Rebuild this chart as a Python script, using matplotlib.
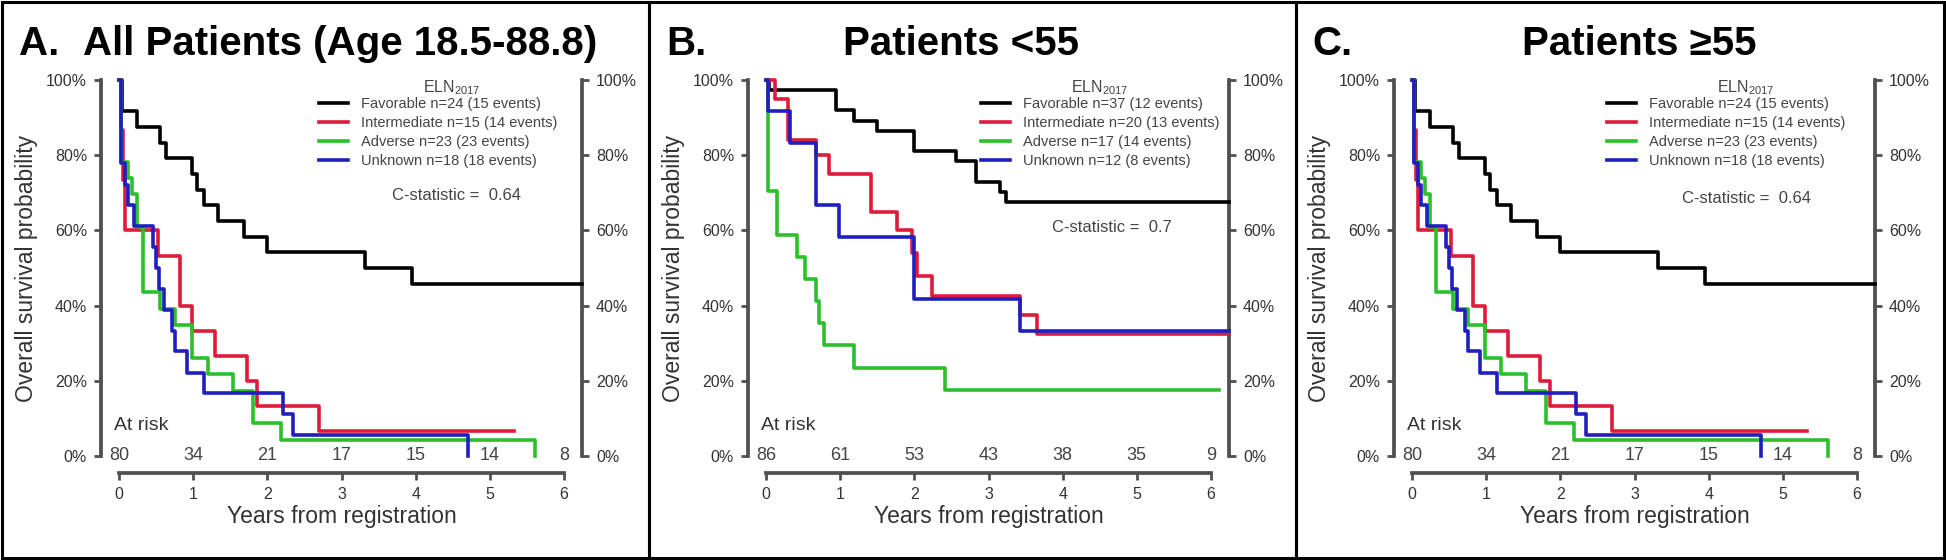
import matplotlib.pyplot as plt
from matplotlib.lines import Line2D
from matplotlib.patches import Rectangle

plt.rcParams['font.family'] = ['Liberation Sans', 'DejaVu Sans']
plt.rcParams['mathtext.fontset'] = 'custom'
plt.rcParams['mathtext.rm'] = 'Liberation Sans'

W, H = 1946, 560

years = [0, 1, 2, 3, 4, 5, 6]
pct_ticks = [0, 20, 40, 60, 80, 100]
group_colors = ['black', '#dd1c3a', '#2bbf2b', '#1f1fbf']

# ---- panel A : all patients (step times in years, survival in %)
a_fav_t = [0, 0.04, 0.24, 0.55, 0.64, 0.98, 1.05, 1.14, 1.34, 1.68, 1.99, 3.32, 3.95, 6.24]
a_fav_s = [100, 91.7, 87.5, 83.3, 79.2, 75.0, 70.8, 66.7, 62.5, 58.3, 54.2, 50.0, 45.8, 45.8]
a_int_t = [0, 0.02, 0.05, 0.08, 0.53, 0.82, 0.98, 1.29, 1.72, 1.86, 2.69, 5.32]
a_int_s = [100, 86.7, 73.3, 60.0, 53.3, 40.0, 33.3, 26.7, 20.0, 13.3, 6.7, 6.7]
a_adv_t = [0, 0.03, 0.12, 0.18, 0.24, 0.33, 0.55, 0.75, 0.98, 1.20, 1.54, 1.81, 2.19, 5.61]
a_adv_s = [100, 78.3, 73.9, 69.6, 60.9, 43.5, 39.1, 34.8, 26.1, 21.7, 17.4, 8.7, 4.3, 0]
a_unk_t = [0, 0.02, 0.08, 0.12, 0.20, 0.46, 0.50, 0.54, 0.60, 0.72, 0.76, 0.92, 1.14, 2.21, 2.35, 4.71]
a_unk_s = [100, 77.8, 72.2, 66.7, 61.1, 55.6, 50.0, 44.4, 38.9, 33.3, 27.8, 22.2, 16.7, 11.1, 5.6, 0]
a_labels = ['Favorable n=24 (15 events)', 'Intermediate n=15 (14 events)',
            'Adverse n=23 (23 events)', 'Unknown n=18 (18 events)']
a_at_risk = [80, 34, 21, 17, 15, 14, 8]
a_cstat = 'C-statistic =  0.64'

# ---- panel B : patients < 55
b_fav_t = [0, 0.04, 0.94, 1.19, 1.50, 2.00, 2.56, 2.83, 3.16, 3.23, 6.24]
b_fav_s = [100, 97.3, 91.9, 89.2, 86.5, 81.1, 78.4, 73.0, 70.3, 67.6, 67.6]
b_int_t = [0, 0.12, 0.30, 0.67, 0.85, 1.41, 1.77, 1.97, 2.04, 2.24, 3.43, 3.66, 6.24]
b_int_s = [100, 95.0, 84.0, 80.0, 75.0, 65.0, 60.0, 54.0, 48.0, 42.5, 37.5, 32.5, 32.5]
b_adv_t = [0, 0.02, 0.15, 0.42, 0.53, 0.67, 0.72, 0.78, 1.19, 2.42, 6.11]
b_adv_s = [100, 70.6, 58.8, 52.9, 47.1, 41.2, 35.3, 29.4, 23.5, 17.6, 17.6]
b_unk_t = [0, 0.03, 0.33, 0.67, 0.98, 2.00, 3.43, 6.24]
b_unk_s = [100, 91.7, 83.3, 66.7, 58.3, 41.7, 33.3, 33.3]
b_labels = ['Favorable n=37 (12 events)', 'Intermediate n=20 (13 events)',
            'Adverse n=17 (14 events)', 'Unknown n=12 (8 events)']
b_at_risk = [86, 61, 53, 43, 38, 35, 9]
b_cstat = 'C-statistic =  0.7'

# ---- panel C : patients >= 55 (the source figure shows the same curves as A)
c_fav_t, c_fav_s = a_fav_t, a_fav_s
c_int_t, c_int_s = a_int_t, a_int_s
c_adv_t, c_adv_s = a_adv_t, a_adv_s
c_unk_t, c_unk_s = a_unk_t, a_unk_s
c_labels = ['Favorable n=24 (15 events)', 'Intermediate n=15 (14 events)',
            'Adverse n=23 (23 events)', 'Unknown n=18 (18 events)']
c_at_risk = [80, 34, 21, 17, 15, 14, 8]
c_cstat = 'C-statistic =  0.64'


def fx(px):
    return px / W


def fy(py):
    return 1 - py / H


panels = [
    dict(x0=0, letter='A.', title='All Patients (Age 18.5-88.8)', title_x=83,
         curves=[(a_fav_t, a_fav_s), (a_int_t, a_int_s), (a_adv_t, a_adv_s), (a_unk_t, a_unk_s)],
         labels=a_labels, at_risk=a_at_risk, cstat=a_cstat,
         leg_x=319, eln_x=452, cstat_xy=(456, 196)),
    dict(x0=647, letter='B.', title='Patients <55', title_x=843,
         curves=[(b_fav_t, b_fav_s), (b_int_t, b_int_s), (b_adv_t, b_adv_s), (b_unk_t, b_unk_s)],
         labels=b_labels, at_risk=b_at_risk, cstat=b_cstat,
         leg_x=981, eln_x=1100, cstat_xy=(1112, 228)),
    dict(x0=1293, letter='C.', title='Patients \u226555', title_x=1522,
         curves=[(c_fav_t, c_fav_s), (c_int_t, c_int_s), (c_adv_t, c_adv_s), (c_unk_t, c_unk_s)],
         labels=c_labels, at_risk=c_at_risk, cstat=c_cstat,
         leg_x=1607, eln_x=1746, cstat_xy=(1746, 198)),
]

fig = plt.figure(figsize=(W / 100, H / 100), dpi=100)

spine_col = '#505050'
text_col = '#333333'

for p in panels:
    left = p['x0'] + 101
    ax = fig.add_axes([fx(left), fy(456), (582 - 101) / W, (456 - 80) / H])

    for (t, s), col in zip(p['curves'], group_colors):
        ax.step(t, s, where='post', color=col, lw=2.6, clip_on=False, zorder=3)

    ax.set_xlim(-0.243, 6.243)
    ax.set_ylim(0, 100)

    ax.spines['top'].set_visible(False)
    for side in ['left', 'right', 'bottom']:
        ax.spines[side].set_linewidth(2.7)
        ax.spines[side].set_color(spine_col)
    ax.spines['bottom'].set_position(('outward', 12.2))
    ax.spines['bottom'].set_bounds(0, 6)

    ax.set_xticks(years)
    ax.set_yticks(pct_ticks)
    ax.set_yticklabels([f'{v}%' for v in pct_ticks])
    ax.tick_params(axis='y', left=True, right=True, labelleft=True, labelright=True,
                   direction='out', length=5, width=2, color=spine_col,
                   labelsize=11.5, pad=5, labelcolor=text_col)
    ax.tick_params(axis='x', direction='out', length=5, width=2, color=spine_col,
                   labelsize=11.5, pad=5, labelcolor=text_col)

    ax.set_xlabel('Years from registration', fontsize=16.5, color=text_col, labelpad=2)
    ax.set_ylabel('Overall survival probability', fontsize=16.5, color=text_col)
    ax.yaxis.set_label_coords(-0.13, 0.5)

    # numbers at risk
    ax.text(-0.07, 8.2, 'At risk', fontsize=14, color=text_col, va='center', ha='left')
    for yr, n in zip(years, p['at_risk']):
        ax.text(yr, 0, str(n), fontsize=13, color='#444444', ha='center', va='center', zorder=4)

    handles = [Line2D([], [], color=c, lw=2.6) for c in group_colors]
    ax.legend(handles, p['labels'], loc='upper left',
              bbox_to_anchor=(fx(p['leg_x']), fy(97)), bbox_transform=fig.transFigure,
              frameon=False, fontsize=10.5, handlelength=2.0, handletextpad=0.9,
              labelspacing=0.35, borderpad=0, borderaxespad=0, labelcolor='#444444')
    fig.text(fx(p['eln_x']), fy(88), r'ELN$_{\mathrm{2017}}$', fontsize=11.5,
             color='#444444', ha='center', va='center')
    fig.text(fx(p['cstat_xy'][0]), fy(p['cstat_xy'][1]), p['cstat'], fontsize=12,
             color='#444444', ha='center', va='center')

    # panel heading
    fig.text(fx(p['x0'] + 19), fy(55), p['letter'], fontsize=29, fontweight='bold',
             ha='left', va='baseline')
    fig.text(fx(p['title_x']), fy(55), p['title'], fontsize=29, fontweight='bold',
             ha='left', va='baseline')

# panel frames
for x_a, x_b in [(1.5, 649), (649, 1296), (1296, 1944)]:
    fig.add_artist(Rectangle((fx(x_a), fy(558)), (x_b - x_a) / W, 556.5 / H,
                             transform=fig.transFigure, fill=False, lw=2.2, ec='black'))

fig.savefig('out.png', dpi=100)
